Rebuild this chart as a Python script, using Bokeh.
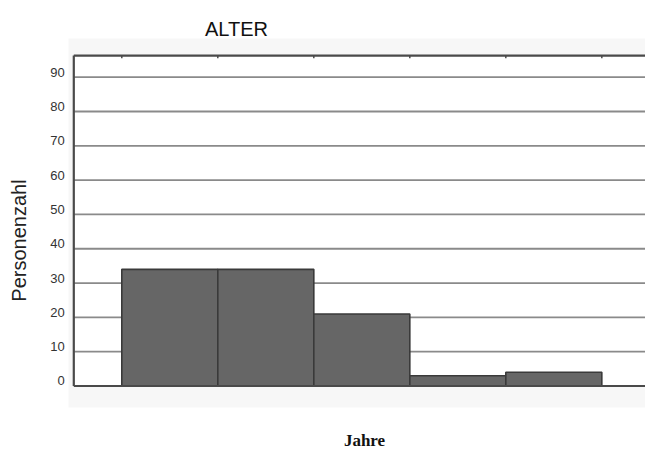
from bokeh.plotting import figure
from bokeh.models import Range1d, ColumnDataSource, LabelSet, Label
from bokeh.core.properties import value
from bokeh.embed import file_html
from bokeh.resources import INLINE

# ---- data ----
bin_left = [0, 1, 2, 3, 4]
bin_right = [1, 2, 3, 4, 5]
counts = [34, 34, 21, 3, 4]
bin_edges = [0, 1, 2, 3, 4, 5]
y_ticks = [0, 10, 20, 30, 40, 50, 60, 70, 80, 90]
y_tick_labels = [str(t) for t in y_ticks]
title_text = "ALTER"
y_label = "Personenzahl"
x_label = "Jahre"

# limits of the plotting box and of the light panel behind it
X_MIN, X_MAX = -0.5, 5.5
Y_TOP = 96.3
PANEL = dict(left=-0.555, right=6.0, bottom=-6.27, top=101.28)

W, H = 645, 450
p = figure(width=W, height=H, output_backend="svg", toolbar_location=None, title=None,
           x_axis_type=None, y_axis_type=None,
           x_range=Range1d(-1.2635, 5.455), y_range=Range1d(-18.80, 112.36),
           min_border=0)
p.outline_line_color = None
p.background_fill_color = "white"
p.border_fill_color = "white"
p.grid.visible = False

# light panel and white plotting box
p.quad(left=[PANEL["left"]], right=[PANEL["right"]], bottom=[PANEL["bottom"]], top=[PANEL["top"]],
       fill_color="#f7f7f7", line_color=None)
p.quad(left=[X_MIN], right=[X_MAX + 1], bottom=[0], top=[Y_TOP],
       fill_color="white", line_color=None)

# horizontal grid lines
grid_y = [t for t in y_ticks if t > 0]
p.segment(x0=[X_MIN] * len(grid_y), y0=grid_y, x1=[X_MAX + 1] * len(grid_y), y1=grid_y,
          line_color="#8a8a8a", line_width=1.8)

# histogram bars
src = ColumnDataSource(dict(left=bin_left, right=bin_right, top=counts,
                            bottom=[0] * len(counts)))
p.quad(left="left", right="right", top="top", bottom="bottom", source=src,
       fill_color="#666666", line_color="#3a3a3a", line_width=1.6)

# axis lines (left, top, baseline)
p.segment(x0=[X_MIN, X_MIN, X_MIN], y0=[0, Y_TOP, 0],
          x1=[X_MIN, X_MAX + 1, X_MAX + 1], y1=[Y_TOP, Y_TOP, 0],
          line_color="#4a4a4a", line_width=2.2)

# small ticks on the top line at the bin edges
p.segment(x0=bin_edges, y0=[Y_TOP] * len(bin_edges), x1=bin_edges,
          y1=[Y_TOP - 0.8] * len(bin_edges), line_color="#4a4a4a", line_width=1.5)

# y tick labels
lab_src = ColumnDataSource(dict(x=[X_MIN] * len(y_ticks), y=y_ticks, text=y_tick_labels))
p.add_layout(LabelSet(x="x", y="y", text="text", source=lab_src, x_offset=-9, y_offset=0.5,
                      text_align="right", text_baseline="alphabetic",
                      text_font=value("Liberation Sans"), text_font_size=value("13px"),
                      text_color="#333333"))

# title and axis titles (screen units from the bottom-left corner)
p.add_layout(Label(x=236, y=H - 28, x_units="screen", y_units="screen", text=title_text,
                   text_align="center", text_baseline="alphabetic",
                   text_font="Liberation Sans", text_font_size="20px", text_color="#111111"))
p.add_layout(Label(x=18, y=H - 240, x_units="screen", y_units="screen", text=y_label,
                   angle=90, angle_units="deg",
                   text_align="center", text_baseline="middle",
                   text_font="Liberation Sans", text_font_size="20px", text_color="#222222"))
p.add_layout(Label(x=364, y=H - 440, x_units="screen", y_units="screen", text=x_label,
                   text_align="center", text_baseline="alphabetic",
                   text_font="Liberation Serif", text_font_style="bold",
                   text_font_size="17px", text_color="#111111"))

open("out.html", "w").write(file_html(p, INLINE))
